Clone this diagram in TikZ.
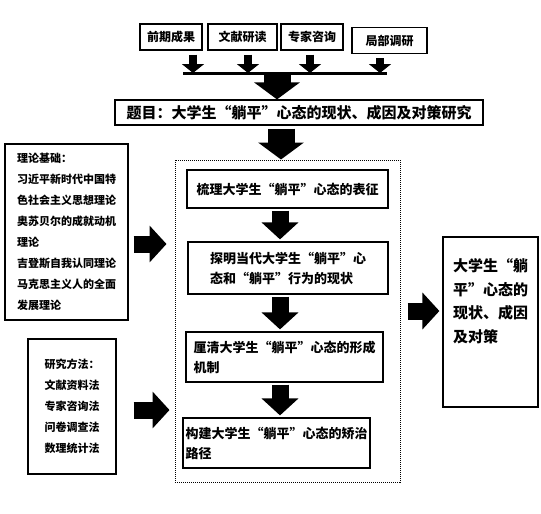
\documentclass[tikz,border=0pt]{standalone}
\usepackage{fontspec}
\setmainfont{Noto Sans CJK SC}[CharacterWidth=Full]
\usetikzlibrary{arrows.meta}

\begin{document}
\begin{tikzpicture}[
    x=1pt, y=-1pt,
    box/.style={rectangle, draw, line width=1.2pt, inner sep=0pt},
    src/.style={box, minimum height=26pt, font=\bfseries\fontsize{12}{14}\selectfont},
    task/.style={box, align=left, font=\bfseries\fontsize{13}{20}\selectfont},
    side/.style={box, align=left, font=\bfseries\fontsize{11}{21}\selectfont},
    thinarrow/.style={line width=8pt, -{Triangle[width=22pt,length=9pt]}},
    fatarrow/.style={line width=27pt, -{Triangle[width=45pt,length=17pt]}},
    midarrow/.style={line width=17pt, -{Triangle[width=36pt,length=17pt]}}
]
    \useasboundingbox (0,0) rectangle (541,514);

    \node[src, minimum width=62pt] (p1) at (171,37) {前期成果};
    \node[src, minimum width=69pt] (p2) at (242.5,37) {文献研读};
    \node[src, minimum width=62pt] (p3) at (312,37) {专家咨询};
    \node[src, minimum width=75pt] (p4) at (389.5,40.5) {局部调研};

    \coordinate (barL) at (183,73);
    \coordinate (barR) at (387,73);
    \coordinate (t1) at (193,73);
    \coordinate (t2) at (248,73);
    \coordinate (t3) at (310,73);
    \coordinate (t4) at (380,73);
    \coordinate (hub) at (277,73);
    \draw[line width=3pt] (barL) -- (barR);
    \foreach \i in {1,...,4}
        \draw[thinarrow, shorten <=4pt] (p\i.south -| t\i) -- (t\i);

    \node[box, minimum width=368pt, minimum height=25pt, font=\bfseries\fontsize{15}{18}\selectfont] (title) at (299,112.5) {题目：大学生“躺平”心态的现状、成因及对策研究};
    \draw[fatarrow] (hub) -- (hub |- title.north);

    \node[draw, dash pattern=on 1pt off 1pt, line width=1pt, minimum width=225pt, minimum height=322pt] (stage) at (287.5,321) {};
    \coordinate (feed) at (281,0);
    \draw[fatarrow, shorten <=3pt] (title.south -| feed) -- (stage.north -| feed);

    \node[task, minimum width=201pt, minimum height=38pt] (s1) at (287.5,189) {梳理大学生“躺平”心态的表征};
    \node[task, minimum width=200pt, minimum height=52pt] (s2) at (288,268) {探明当代大学生“躺平”心\\态和“躺平”行为的现状};
    \node[task, minimum width=197pt, minimum height=50pt] (s3) at (284.5,357) {厘清大学生“躺平”心态的形成\\机制};
    \node[task, minimum width=187pt, minimum height=50pt] (s4) at (276.5,443) {构建大学生“躺平”心态的矫治\\路径};

    \coordinate (axis) at (280,0);
    \draw[midarrow, shorten <=2pt, shorten >=2pt] (s1.south -| axis) -- (s2.north -| axis);
    \draw[midarrow, shorten <=2pt, shorten >=2pt] (s2.south -| axis) -- (s3.north -| axis);
    \draw[midarrow, shorten <=2pt, shorten >=2pt] (s3.south -| axis) -- (s4.north -| axis);

    \node[side, minimum width=123pt, minimum height=176pt] (theory) at (66.5,232) {理论基础：\\习近平新时代中国特\\色社会主义思想理论\\奥苏贝尔的成就动机\\理论\\吉登斯自我认同理论\\马克思主义人的全面\\发展理论};
    \node[side, minimum width=88pt, minimum height=135pt] (method) at (72,406.5) {研究方法：\\文献资料法\\专家咨询法\\问卷调查法\\数理统计法};

    \node[box, minimum width=95pt, minimum height=170pt] (result) at (490.5,322) {};
    \node[anchor=north, align=left, inner sep=0pt, font=\bfseries\fontsize{15}{23.5}\selectfont] (resulttext) at ([yshift=-22pt]result.north) {大学生“躺\\平”心态的\\现状、成因\\及对策};

    \coordinate (in1) at (0,244);
    \coordinate (in2) at (0,410);
    \coordinate (out) at (0,311);
    \draw[midarrow, shorten <=5pt, shorten >=8pt] (theory.east |- in1) -- (stage.west |- in1);
    \draw[midarrow, shorten <=17pt, shorten >=5pt] (method.east |- in2) -- (stage.west |- in2);
    \draw[midarrow, shorten <=7pt, shorten >=3pt] (stage.east |- out) -- (result.west |- out);
\end{tikzpicture}
\end{document}
